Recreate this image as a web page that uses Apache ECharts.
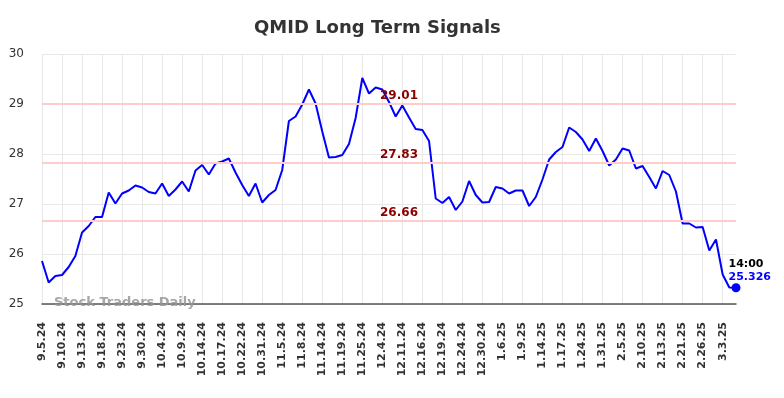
<!DOCTYPE html>
<html>
<head>
<meta charset="utf-8">
<script src="https://cdn.jsdelivr.net/npm/echarts@6/dist/echarts.min.js"></script>
<style>
  html, body { margin: 0; padding: 0; background: #fff; }
  #chart { width: 784px; height: 398px; }
</style>
</head>
<body>
<div id="chart"></div>
<script>
const dates = [
  '9.5.24','9.6.24','9.9.24','9.10.24','9.11.24','9.12.24','9.13.24','9.16.24','9.17.24','9.18.24',
  '9.19.24','9.20.24','9.23.24','9.25.24','9.27.24','9.30.24','10.1.24','10.2.24','10.4.24','10.7.24',
  '10.8.24','10.9.24','10.10.24','10.11.24','10.14.24','10.15.24','10.16.24','10.17.24','10.18.24','10.21.24',
  '10.22.24','10.24.24','10.29.24','10.31.24','11.1.24','11.4.24','11.5.24','11.6.24','11.7.24','11.8.24',
  '11.11.24','11.13.24','11.14.24','11.15.24','11.18.24','11.19.24','11.20.24','11.22.24','11.25.24','11.26.24',
  '12.2.24','12.4.24','12.5.24','12.9.24','12.11.24','12.12.24','12.13.24','12.16.24','12.17.24','12.18.24',
  '12.19.24','12.20.24','12.23.24','12.24.24','12.26.24','12.27.24','12.30.24','12.31.24','1.3.25','1.6.25',
  '1.7.25','1.8.25','1.9.25','1.10.25','1.13.25','1.14.25','1.15.25','1.16.25','1.17.25','1.21.25',
  '1.23.25','1.24.25','1.27.25','1.29.25','1.31.25','2.3.25','2.4.25','2.5.25','2.6.25','2.7.25',
  '2.10.25','2.11.25','2.12.25','2.13.25','2.14.25','2.18.25','2.21.25','2.24.25','2.25.25','2.26.25',
  '2.27.25','2.28.25','3.3.25','3.4.25','3.5.25'
];

const prices = [
  25.86, 25.43, 25.56, 25.58, 25.74, 25.96, 26.43, 26.56, 26.74, 26.74,
  27.23, 27.01, 27.21, 27.27, 27.37, 27.33, 27.24, 27.21, 27.41, 27.16,
  27.29, 27.45, 27.25, 27.67, 27.78, 27.59, 27.81, 27.85, 27.91, 27.63,
  27.38, 27.16, 27.41, 27.03, 27.18, 27.28, 27.68, 28.66, 28.75, 28.99,
  29.29, 29.01, 28.45, 27.93, 27.94, 27.98, 28.20, 28.72, 29.52, 29.21,
  29.33, 29.29, 29.04, 28.75, 28.97, 28.73, 28.50, 28.48, 28.26, 27.11,
  27.02, 27.14, 26.88, 27.05, 27.46, 27.18, 27.03, 27.04, 27.34, 27.31,
  27.21, 27.27, 27.27, 26.96, 27.14, 27.49, 27.89, 28.04, 28.14, 28.53,
  28.44, 28.29, 28.06, 28.31, 28.06, 27.77, 27.89, 28.11, 28.07, 27.71,
  27.76, 27.54, 27.31, 27.66, 27.58, 27.25, 26.61, 26.61, 26.53, 26.54,
  26.07, 26.29, 25.59, 25.33, 25.326
];

const signalLevels = [29.01, 27.83, 26.66];
const lastTime = '14:00';
const lastPrice = '25.326';

const chart = echarts.init(document.getElementById('chart'));

const option = {
  animation: false,
  title: {
    text: 'QMID Long Term Signals',
    left: 249,
    top: 14,
    textStyle: { fontFamily: 'DejaVu Sans', fontSize: 18, fontWeight: 'bold', color: '#333' }
  },
  grid: { left: 42, right: 48, top: 54, bottom: 94 },
  xAxis: {
    type: 'category',
    data: dates,
    boundaryGap: false,
    axisLine: { lineStyle: { color: '#555', width: 1.5 } },
    axisTick: { show: false },
    axisLabel: {
      interval: 2,
      rotate: 90,
      margin: 18,
      fontFamily: 'DejaVu Sans',
      fontSize: 11,
      fontWeight: 'bold',
      color: '#333'
    },
    splitLine: { show: true, interval: 2, lineStyle: { color: '#e8e8e8', width: 1 } }
  },
  yAxis: {
    type: 'value',
    min: 25,
    max: 30,
    interval: 1,
    axisLine: { show: false },
    axisTick: { show: false },
    axisLabel: { margin: 18, fontFamily: 'DejaVu Sans', fontSize: 12, color: '#333' },
    splitLine: { lineStyle: { color: '#e8e8e8', width: 1 } }
  },
  graphic: [{
    type: 'text',
    left: 54,
    top: 296,
    z: 10,
    style: {
      text: 'Stock Traders Daily',
      fill: 'rgba(150,150,150,0.85)',
      font: 'bold 13px "DejaVu Sans"'
    }
  }],
  series: [{
    type: 'line',
    data: prices,
    showSymbol: false,
    lineStyle: { color: '#0000ff', width: 2 },
    itemStyle: { color: '#0000ff' },
    markLine: {
      silent: true,
      symbol: 'none',
      lineStyle: { color: '#ffcccc', width: 2, type: 'solid' },
      label: {
        position: 'insideMiddleTop',
        distance: 2,
        offset: [10, 0],
        fontFamily: 'DejaVu Sans',
        fontSize: 12,
        fontWeight: 'bold',
        color: '#8b0000',
        formatter: p => p.value.toFixed(2)
      },
      data: signalLevels.map(v => ({ yAxis: v }))
    },
    markPoint: {
      symbol: 'circle',
      symbolSize: 9,
      itemStyle: { color: '#0000ff' },
      label: {
        show: true,
        position: [-3, -26],
        align: 'left',
        verticalAlign: 'top',
        formatter: '{t|' + lastTime + '}\n{v|' + lastPrice + '}',
        rich: {
          t: { fontFamily: 'DejaVu Sans', fontSize: 11, fontWeight: 'bold', color: '#000', lineHeight: 13 },
          v: { fontFamily: 'DejaVu Sans', fontSize: 11, fontWeight: 'bold', color: '#0000ff', lineHeight: 13 }
        }
      },
      data: [{ coord: [dates.length - 1, prices[prices.length - 1]] }]
    }
  }]
};

chart.setOption(option);
</script>
</body>
</html>
